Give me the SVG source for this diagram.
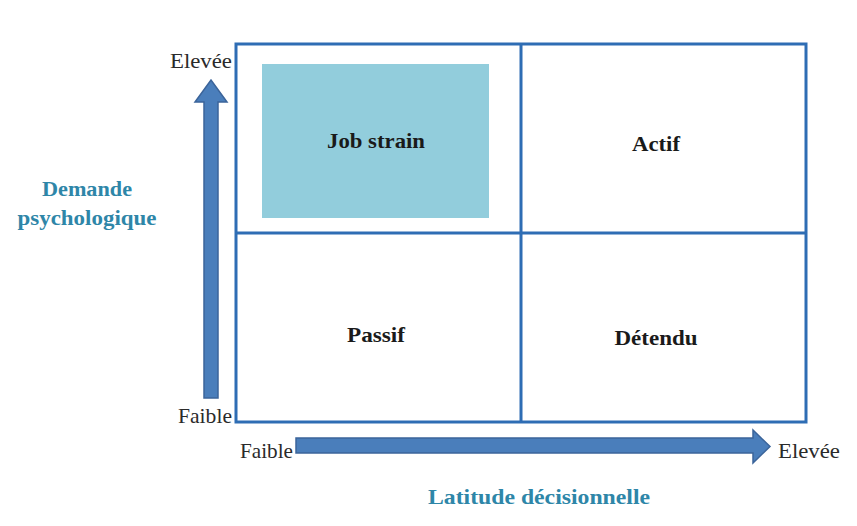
<svg xmlns="http://www.w3.org/2000/svg" width="857" height="526" viewBox="0 0 857 526">
<style>
.grid{fill:none;stroke:#2E6DB4;stroke-width:3}
.arrow{fill:#4A7EBB;stroke:#3B649A;stroke-width:1.5}
.q{font-family:"Liberation Serif","Times New Roman",serif;font-weight:bold;font-size:22px;fill:#1a1a1a;text-anchor:middle}
.ax{font-family:"Liberation Serif","Times New Roman",serif;font-size:22px;fill:#2a2a2a}
.title{font-family:"Liberation Serif","Times New Roman",serif;font-weight:bold;font-size:22px;fill:#2E86A8;text-anchor:middle}
</style>
<rect width="857" height="526" fill="#ffffff"/>
<g id="connectors">
<path class="arrow" d="M204,398 V102 H195 L211,80 L227,102 H218 V398 Z"/>
<path class="arrow" d="M296,438 H753 V430 L770,446.5 L753,463 V453 H296 Z"/>
</g>
<g id="grid">
<rect class="grid" x="236" y="44" width="570" height="378"/>
<line class="grid" x1="521" y1="44" x2="521" y2="422"/>
<line class="grid" x1="236" y1="233" x2="806" y2="233"/>
</g>
<g id="job-strain">
<rect x="262" y="64" width="227" height="154" fill="#92CDDC"/>
<text class="q" x="376" y="148" textLength="98" lengthAdjust="spacingAndGlyphs">Job strain</text>
</g>
<g id="actif"><text class="q" x="656" y="151" textLength="48" lengthAdjust="spacingAndGlyphs">Actif</text></g>
<g id="passif"><text class="q" x="376" y="342" textLength="58" lengthAdjust="spacingAndGlyphs">Passif</text></g>
<g id="detendu"><text class="q" x="656" y="345" textLength="83" lengthAdjust="spacingAndGlyphs">Détendu</text></g>
<g id="axis-labels">
<text class="ax" x="170" y="68" textLength="62" lengthAdjust="spacingAndGlyphs">Elevée</text>
<text class="ax" x="178" y="423" textLength="54" lengthAdjust="spacingAndGlyphs">Faible</text>
<text class="ax" x="240" y="458" textLength="53" lengthAdjust="spacingAndGlyphs">Faible</text>
<text class="ax" x="778" y="458" textLength="62" lengthAdjust="spacingAndGlyphs">Elevée</text>
</g>
<g id="y-title">
<text class="title" x="87" y="196" textLength="90" lengthAdjust="spacingAndGlyphs">Demande</text>
<text class="title" x="87" y="225" textLength="139" lengthAdjust="spacingAndGlyphs">psychologique</text>
</g>
<g id="x-title">
<text class="title" x="539" y="504" textLength="222" lengthAdjust="spacingAndGlyphs">Latitude décisionnelle</text>
</g>
</svg>
